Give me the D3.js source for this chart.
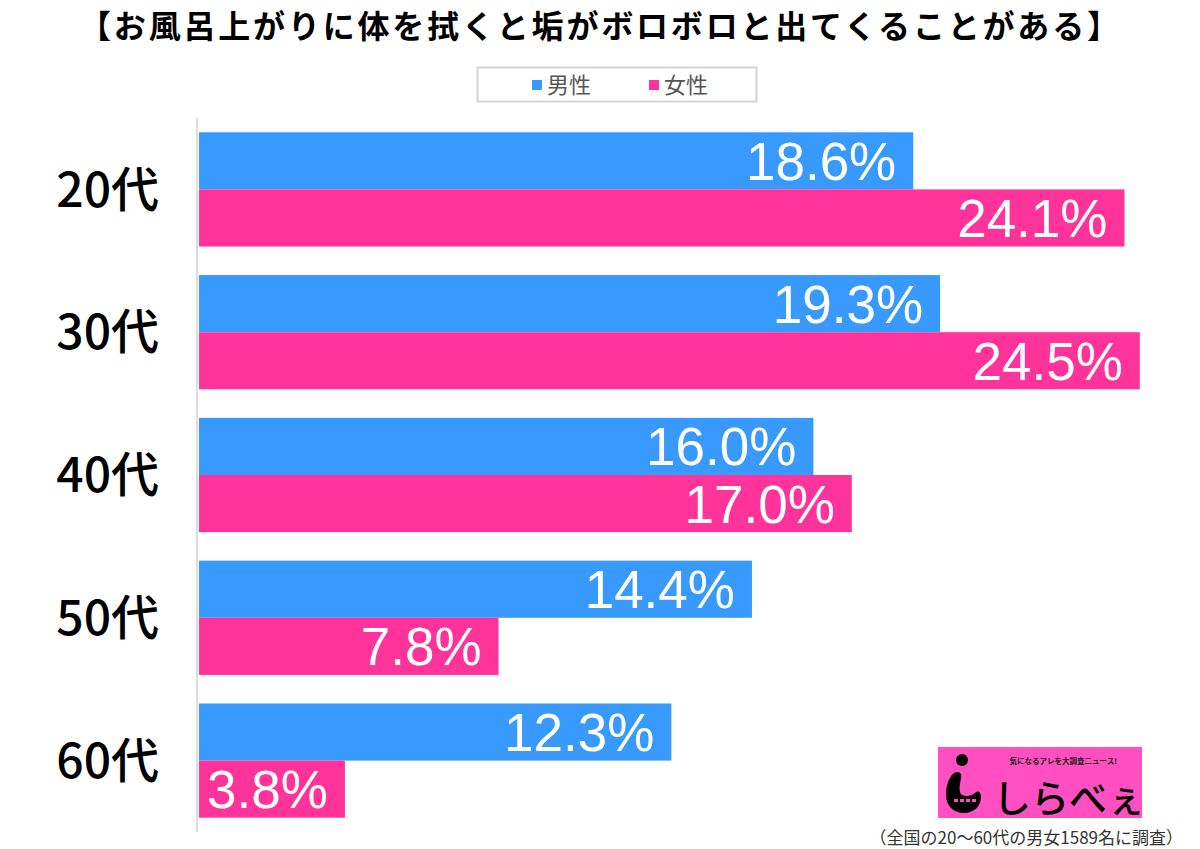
<!DOCTYPE html>
<html>
<head>
<meta charset="utf-8">
<script src="https://cdn.jsdelivr.net/npm/d3@7"></script>
<style>
  html, body { margin: 0; padding: 0; background: #fff; }
  svg { display: block; }
</style>
</head>
<body>
<div class="chart"></div>
<script>
var title = "【お風呂上がりに体を拭くと垢がボロボロと出てくることがある】";
var ages = ["20代", "30代", "40代", "50代", "60代"];
var seriesNames = ["男性", "女性"];
var male = [18.6, 19.3, 16.0, 14.4, 12.3];
var female = [24.1, 24.5, 17.0, 7.8, 3.8];
var note = "（全国の20～60代の男女1589名に調査）";

var colours = d3.scaleOrdinal()
    .domain(seriesNames)
    .range(["#3899ff", "#ff3399"]);

var width = 1200, height = 849;
var jp = "'Noto Sans CJK JP', 'Noto Sans', sans-serif";
var num = "'Liberation Sans', 'Noto Sans CJK JP', sans-serif";

var svg = d3.select('.chart')
    .append('svg')
    .attr('width', width)
    .attr('height', height);

// title
svg.append('text')
    .attr('x', 599)
    .attr('y', 38)
    .attr('text-anchor', 'middle')
    .attr('font-family', jp)
    .attr('font-weight', 700)
    .attr('font-size', 32)
    .attr('textLength', 1040)
    .attr('lengthAdjust', 'spacing')
    .attr('fill', '#000')
    .text(title);

// legend
svg.append('rect')
    .attr('x', 477.5).attr('y', 67.5)
    .attr('width', 279).attr('height', 34)
    .attr('fill', '#fff')
    .attr('stroke', '#d4d4d4')
    .attr('stroke-width', 2);

var legendX = [532, 649];
seriesNames.forEach(function (s, i) {
    svg.append('rect')
        .attr('x', legendX[i]).attr('y', 80)
        .attr('width', 10).attr('height', 10)
        .attr('fill', colours(s));
    svg.append('text')
        .attr('x', legendX[i] + 15)
        .attr('y', 93)
        .attr('font-family', jp)
        .attr('font-size', 22)
        .attr('fill', '#555')
        .text(s);
});

// scales
var xScale = d3.scaleLinear()
    .domain([0, 25])
    .range([199, 1159]);

var yScale = d3.scaleBand()
    .domain(ages)
    .range([118, 832])
    .paddingInner(0.2)
    .paddingOuter(0.1);

var ySub = d3.scaleBand()
    .domain(seriesNames)
    .range([0, yScale.bandwidth()]);

var dataset = ages.map(function (a, i) {
    return {
        age: a,
        values: [
            { key: "男性", value: male[i] },
            { key: "女性", value: female[i] }
        ]
    };
});

var groups = svg.selectAll('g.group')
    .data(dataset)
    .enter()
    .append('g')
    .attr('class', 'group')
    .attr('transform', function (d) {
        return 'translate(0,' + yScale(d.age) + ')';
    });

groups.selectAll('rect')
    .data(function (d) { return d.values; })
    .enter()
    .append('rect')
    .attr('x', xScale(0))
    .attr('y', function (d) { return ySub(d.key); })
    .attr('width', function (d) { return xScale(d.value) - xScale(0); })
    .attr('height', ySub.bandwidth())
    .attr('fill', function (d) { return colours(d.key); });

groups.selectAll('text')
    .data(function (d) { return d.values; })
    .enter()
    .append('text')
    .attr('x', function (d) { return xScale(d.value) - 17; })
    .attr('y', function (d) { return ySub(d.key) + ySub.bandwidth() / 2 + 19; })
    .attr('text-anchor', 'end')
    .attr('font-family', num)
    .attr('font-size', 53)
    .attr('fill', '#fff')
    .text(function (d) { return d.value.toFixed(1) + '%'; });

// y axis (line + labels only)
var yAxis = d3.axisLeft(yScale).tickSize(0).tickPadding(38);
var axisG = svg.append('g')
    .attr('transform', 'translate(197,0)')
    .call(yAxis);
axisG.select('.domain')
    .attr('d', 'M0,118V832')
    .attr('stroke', '#dddddd')
    .attr('stroke-width', 2);
axisG.selectAll('text')
    .attr('font-family', jp)
    .attr('font-weight', 500)
    .attr('font-size', 48)
    .attr('fill', '#000')
    .attr('dy', '0.36em');

// logo
var logo = svg.append('g');
logo.append('rect')
    .attr('x', 938).attr('y', 747)
    .attr('width', 204).attr('height', 71)
    .attr('fill', '#ff4fc0');
logo.append('circle')
    .attr('cx', 962).attr('cy', 760).attr('r', 6)
    .attr('fill', '#000');
logo.append('path')
    .attr('d', 'M957,772 C952,772 946,782 946,795 C946,806 954,813 964,813 C974,813 981,806 981,797 C981,792 978,790 975,793 C972,796 966,797 962,795 C958,792 960,784 961,778 C962,774 960,772 957,772 Z')
    .attr('fill', '#000');
[956, 962, 968, 974].forEach(function (cx) {
    logo.append('rect')
        .attr('x', cx - 2).attr('y', 799)
        .attr('width', 4).attr('height', 3)
        .attr('fill', '#ff4fc0');
});
logo.append('text')
    .attr('x', 1117).attr('y', 764)
    .attr('text-anchor', 'end')
    .attr('font-family', jp)
    .attr('font-weight', 700)
    .attr('font-size', 7.5)
    .attr('fill', '#222')
    .text("気になるアレを大調査ニュース!");
logo.append('text')
    .attr('x', 993).attr('y', 812)
    .attr('font-family', jp)
    .attr('font-weight', 500)
    .attr('font-size', 38)
    .attr('fill', '#000')
    .text("しらべぇ");

// footnote
svg.append('text')
    .attr('x', 1183)
    .attr('y', 844)
    .attr('text-anchor', 'end')
    .attr('font-family', jp)
    .attr('font-size', 17)
    .attr('fill', '#333')
    .text(note);
</script>
</body>
</html>
